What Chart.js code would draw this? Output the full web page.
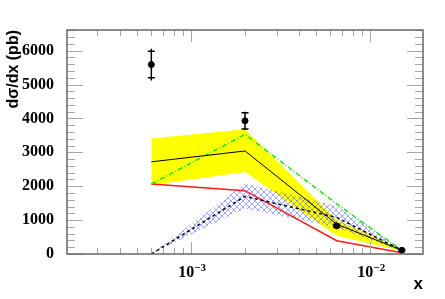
<!DOCTYPE html>
<html>
<head>
<meta charset="utf-8">
<script src="https://cdn.jsdelivr.net/npm/chart.js@4/dist/chart.umd.min.js"></script>
<style>
  html, body { margin: 0; padding: 0; background: #fff; }
  canvas { display: block; }
</style>
</head>
<body>
<canvas id="graphe" width="445" height="299"></canvas>
<script>
// valeurs
const xVals = [0.0006, 0.002, 0.0065, 0.015];
const donnees = [5590, 3930, 830, 110];
const errStat = [390, 240, 40, 20];
const errTot = [470, 270, 60, 30];
const bandeJauneHaut = [3410, 3680, 1000, 140];
const bandeJauneBas = [2030, 2420, 540, 90];
const ligneNoire = [2720, 3040, 880, 110];
const ligneRouge = [2065, 1870, 392, 40];
const ligneVerte = [2065, 3530, 1480, 110];
const bandeBleueHaut = [0, 2080, 1420, 140];
const bandeBleueBas = [0, 1340, 780, 80];
const ligneTirets = [0, 1700, 1080, 110];
const yTicks = [0, 1000, 2000, 3000, 4000, 5000, 6000];
const xTickLabels = [{ v: 0.001, base: "10", exp: "\u22123" }, { v: 0.01, base: "10", exp: "\u22122" }];

function pts(arr) {
    return xVals.map((x, i) => ({ x: x, y: arr[i] }));
}

// motif hachuré bleu
function hachures() {
    const c = document.createElement("canvas");
    c.width = 6; c.height = 6;
    const g = c.getContext("2d");
    g.strokeStyle = "rgba(60, 80, 255, 0.7)";
    g.lineWidth = 0.7;
    g.beginPath();
    g.moveTo(0, 0); g.lineTo(6, 6);
    g.moveTo(0, 6); g.lineTo(6, 0);
    g.stroke();
    return g.createPattern(c, "repeat");
}

const cadre = {
    id: "cadre",
    afterDraw(chart) {
        const ctx = chart.ctx;
        const xs = chart.scales.x, ys = chart.scales.y;
        const a = chart.chartArea;
        ctx.save();

        // barres d'erreur
        ctx.strokeStyle = "#000";
        ctx.lineWidth = 1.5;
        xVals.forEach((x, i) => {
            const px = xs.getPixelForValue(x);
            ctx.beginPath();
            ctx.moveTo(px, ys.getPixelForValue(donnees[i] + errTot[i]));
            ctx.lineTo(px, ys.getPixelForValue(donnees[i] - errTot[i]));
            [donnees[i] + errStat[i], donnees[i] - errStat[i]].forEach(v => {
                const py = ys.getPixelForValue(v);
                ctx.moveTo(px - 3.5, py);
                ctx.lineTo(px + 3.5, py);
            });
            ctx.stroke();
        });

        // graduations
        ctx.setLineDash([]);
        ctx.strokeStyle = "#a6a6a6";
        ctx.lineWidth = 1;
        ctx.beginPath();
        for (let v = 0; v <= 6600; v += 200) {
            const py = Math.round(ys.getPixelForValue(v)) + 0.5;
            const len = v % 1000 === 0 ? 16 : 8;
            ctx.moveTo(a.left, py); ctx.lineTo(a.left + len, py);
            ctx.moveTo(a.right, py); ctx.lineTo(a.right - len, py);
        }
        [-4, -3, -2].forEach(e => {
            for (let m = 1; m <= 9; m++) {
                const v = m * Math.pow(10, e);
                if (v < 0.000203 || v > 0.0197) continue;
                const px = Math.round(xs.getPixelForValue(v)) + 0.5;
                const len = m === 1 ? 12 : 6;
                ctx.moveTo(px, a.bottom); ctx.lineTo(px, a.bottom - len);
                ctx.moveTo(px, a.top); ctx.lineTo(px, a.top + len);
            }
        });
        ctx.stroke();

        // cadre
        ctx.strokeStyle = "#666";
        ctx.lineWidth = 1.5;
        ctx.strokeRect(a.left, a.top, a.right - a.left, a.bottom - a.top);

        // étiquettes de l'axe x
        ctx.fillStyle = "#000";
        ctx.textBaseline = "alphabetic";
        ctx.textAlign = "left";
        xTickLabels.forEach(t => {
            const px = xs.getPixelForValue(t.v);
            ctx.font = "bold 16px 'Liberation Serif'";
            const w1 = ctx.measureText(t.base).width;
            ctx.font = "bold 11px 'Liberation Serif'";
            const w2 = ctx.measureText(t.exp).width;
            const x0 = px - (w1 + w2) / 2 + 1;
            ctx.font = "bold 16px 'Liberation Serif'";
            ctx.fillText(t.base, x0, a.bottom + 23);
            ctx.font = "bold 11px 'Liberation Serif'";
            ctx.fillText(t.exp, x0 + w1, a.bottom + 17);
        });
        ctx.restore();
    }
};

const ctx = document.getElementById("graphe");
const motif = hachures();

new Chart(ctx, {
    type: "line",
    data: {
        datasets: [
            { data: pts(bandeJauneHaut), fill: "+1", backgroundColor: "#ffff00", borderWidth: 0, pointRadius: 0, order: 10 },
            { data: pts(bandeJauneBas), fill: false, borderWidth: 0, pointRadius: 0, order: 10 },
            { data: pts(bandeBleueHaut), fill: "+1", backgroundColor: motif, borderWidth: 0, pointRadius: 0, order: 9 },
            { data: pts(bandeBleueBas), fill: false, borderWidth: 0, pointRadius: 0, order: 9 },
            { data: pts(ligneRouge), borderColor: "#ff1a1a", borderWidth: 1.5, pointRadius: 0, fill: false, order: 5 },
            { data: pts(ligneVerte), borderColor: "#22dd22", borderWidth: 1.5, borderDash: [5, 2, 1, 2], pointRadius: 0, fill: false, order: 4 },
            { data: pts(ligneTirets), borderColor: "#000", borderWidth: 1.5, borderDash: [3, 3], pointRadius: 0, fill: false, order: 3 },
            { data: pts(ligneNoire), borderColor: "#000", borderWidth: 1, pointRadius: 0, fill: false, order: 2 },
            { data: pts(donnees), showLine: false, pointRadius: 3, pointBackgroundColor: "#000", pointBorderColor: "#000", order: 1 },
        ],
    },
    options: {
        responsive: false,
        animation: false,
        devicePixelRatio: 1,
        layout: { padding: { top: 30, right: 22, left: 0, bottom: 0 } },
        plugins: { legend: { display: false }, tooltip: { enabled: false } },
        scales: {
            x: {
                type: "logarithmic",
                min: 0.000203,
                max: 0.0197,
                grid: { display: false },
                border: { display: false },
                ticks: { display: false },
                title: {
                    display: true,
                    text: "x",
                    align: "end",
                    color: "#000",
                    font: { family: "'Liberation Sans'", size: 17, weight: "bold" },
                },
                afterFit: s => { s.height = 45; },
            },
            y: {
                min: 0,
                max: 6610,
                grid: { display: false },
                border: { display: false },
                afterBuildTicks: s => { s.ticks = yTicks.map(v => ({ value: v })); },
                ticks: {
                    padding: 5,
                    color: "#000",
                    font: { family: "'Liberation Serif'", size: 16, weight: "bold" },
                    callback: v => String(v),
                },
                title: {
                    display: true,
                    text: "dσ/dx (pb)",
                    align: "end",
                    color: "#000",
                    font: { family: "'Liberation Sans'", size: 16, weight: "bold" },
                },
                afterFit: s => { s.width = 67; },
            },
        },
    },
    plugins: [cadre],
});
</script>
</body>
</html>
